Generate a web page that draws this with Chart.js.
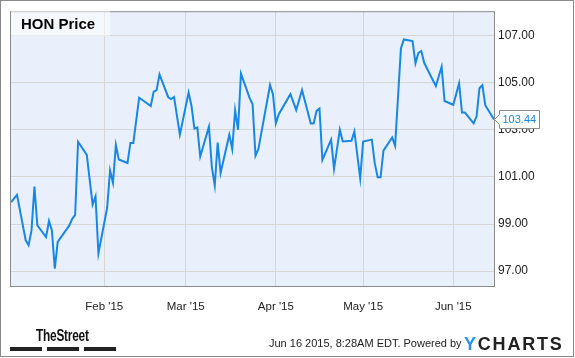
<!DOCTYPE html>
<html>
<head>
<meta charset="utf-8">
<title>HON Price</title>
<script src="https://cdn.jsdelivr.net/npm/chart.js@4.4.0/dist/chart.umd.min.js"></script>
<style>
    html, body { margin: 0; padding: 0; background: #fff; }
    body {
        width: 575px; height: 358px; position: relative; overflow: hidden;
        font-family: "Liberation Sans", Arial, sans-serif;
    }
    #priceChart { position: absolute; left: 0; top: 0; }
    .frame {
        position: absolute; left: 0; top: 0; width: 574px; height: 357px;
        box-sizing: border-box; border: 1px solid #8a8a8a; pointer-events: none;
    }
    .title-box {
        position: absolute; left: 11px; top: 11px; width: 99px; height: 25px;
        background: rgba(255, 255, 255, 0.5);
    }
    .title-box span {
        position: absolute; left: 10px; top: 4px;
        font-weight: bold; font-size: 15px; color: #000; white-space: nowrap;
    }
    .street {
        position: absolute; left: 36px; top: 327px;
        font-weight: bold; font-size: 16px; color: #111; letter-spacing: -0.3px;
        transform: scaleX(0.74); transform-origin: left top; white-space: nowrap;
    }
    .street-bar { position: absolute; top: 347px; height: 4px; background: #222; }
    .stamp {
        position: absolute; left: 269px; top: 337px;
        font-size: 11px; color: #222; white-space: nowrap;
    }
    .ycharts {
        position: absolute; left: 464px; top: 334px;
        font-weight: bold; font-size: 18px; color: #222; letter-spacing: 1.8px; white-space: nowrap;
    }
    .ycharts .y { color: #2a93e8; }
</style>
</head>
<body>
<canvas id="priceChart" width="575" height="358"></canvas>
<div class="title-box"><span>HON Price</span></div>
<div class="frame"></div>
<div class="street">TheStreet</div>
<div class="street-bar" style="left:10px;width:32px"></div>
<div class="street-bar" style="left:47px;width:32px"></div>
<div class="street-bar" style="left:84px;width:32px"></div>
<div class="stamp">Jun 16 2015, 8:28AM EDT. Powered by</div>
<div class="ycharts"><span class="y">Y</span>CHARTS</div>

<script>
// HON daily close (only the visible turning points)
const dates = [
    '2014-12-31', '2015-01-02', '2015-01-05', '2015-01-06', '2015-01-07', '2015-01-08', '2015-01-09',
    '2015-01-12', '2015-01-13', '2015-01-14', '2015-01-15', '2015-01-16', '2015-01-20', '2015-01-21',
    '2015-01-22', '2015-01-23', '2015-01-26', '2015-01-28', '2015-01-29', '2015-01-30',
    '2015-02-02', '2015-02-03', '2015-02-04', '2015-02-05', '2015-02-06', '2015-02-09', '2015-02-10',
    '2015-02-11', '2015-02-13', '2015-02-17', '2015-02-18', '2015-02-19', '2015-02-20', '2015-02-23',
    '2015-02-24', '2015-02-25', '2015-02-27',
    '2015-03-02', '2015-03-03', '2015-03-04', '2015-03-05', '2015-03-06', '2015-03-09', '2015-03-10',
    '2015-03-11', '2015-03-12', '2015-03-13', '2015-03-16', '2015-03-17', '2015-03-18', '2015-03-19',
    '2015-03-20', '2015-03-23', '2015-03-24', '2015-03-25', '2015-03-26', '2015-03-30', '2015-03-31',
    '2015-04-01', '2015-04-02', '2015-04-06', '2015-04-08', '2015-04-10', '2015-04-13', '2015-04-14',
    '2015-04-15', '2015-04-16', '2015-04-17', '2015-04-20', '2015-04-21', '2015-04-23', '2015-04-24',
    '2015-04-27', '2015-04-28', '2015-04-30',
    '2015-05-01', '2015-05-04', '2015-05-05', '2015-05-06', '2015-05-07', '2015-05-08', '2015-05-11',
    '2015-05-12', '2015-05-14', '2015-05-15', '2015-05-18', '2015-05-19', '2015-05-20', '2015-05-21',
    '2015-05-22', '2015-05-26', '2015-05-28', '2015-05-29',
    '2015-06-01', '2015-06-03', '2015-06-04', '2015-06-05', '2015-06-08', '2015-06-09', '2015-06-10',
    '2015-06-11', '2015-06-12', '2015-06-15'
];
const prices = [
    99.93, 100.24, 98.31, 98.10, 98.73, 100.59, 98.94,
    98.45, 99.13, 98.73, 97.11, 98.24, 98.94, 99.22,
    99.39, 102.49, 101.93, 99.82, 100.17, 97.75,
    99.69, 101.27, 100.75, 102.35, 101.74, 101.59, 102.44,
    102.44, 104.36, 104.01, 104.62, 104.68, 105.35, 104.38,
    104.30, 104.39, 102.79,
    104.58, 104.01, 103.05, 103.10, 101.86, 103.13, 101.41,
    100.63, 102.46, 101.17, 102.79, 102.18, 103.83, 103.00,
    105.38, 104.34, 104.08, 101.90, 102.18, 104.90, 104.51,
    103.27, 103.66, 104.51, 103.84, 104.69, 103.27, 103.27,
    103.80, 103.90, 101.72, 102.58, 101.34, 103.00, 102.50,
    102.53, 102.93, 100.94,
    102.50, 102.58, 101.58, 100.98, 100.98, 102.11, 102.67,
    102.32, 106.45, 106.83, 106.76, 105.82, 106.26, 106.34,
    105.84, 104.85, 105.67, 104.22,
    104.06, 104.97, 103.73, 103.73, 103.27, 103.56, 104.76,
    104.89, 104.04, 103.44
];

const monthTickDates = ['2015-02-01', '2015-03-01', '2015-04-01', '2015-05-01', '2015-06-01'];
const monthTickLabels = ["Feb '15", "Mar '15", "Apr '15", "May '15", "Jun '15"];
const priceTicks = [97, 99, 101, 103, 105, 107];

const LINE_COLOR = '#1787e6';
const GRID_COLOR = '#d6d6d6';
const PLOT_BG = '#eaf0fb';
const BORDER_COLOR = '#8a8a8a';

// days since 1 Jan 2015, so the x axis can stay a plain linear scale
function dayNumber(iso) {
    const [y, m, d] = iso.split('-').map(Number);
    return (Date.UTC(y, m - 1, d) - Date.UTC(2015, 0, 1)) / 86400000;
}

const points = dates.map((d, i) => ({ x: dayNumber(d), y: prices[i] }));
const tickDays = monthTickDates.map(dayNumber);

const plotFrame = {
    id: 'plotFrame',
    beforeDraw(chart) {
        const { ctx, chartArea: a } = chart;
        ctx.save();
        ctx.fillStyle = PLOT_BG;
        ctx.fillRect(a.left, a.top, a.right - a.left, a.bottom - a.top);
        ctx.restore();
    },
    afterDraw(chart) {
        const { ctx, chartArea: a } = chart;
        ctx.save();
        ctx.strokeStyle = BORDER_COLOR;
        ctx.lineWidth = 1;
        ctx.strokeRect(a.left + 0.5, a.top + 0.5, a.right - a.left, a.bottom - a.top);
        ctx.restore();
    }
};

const lastValueFlag = {
    id: 'lastValueFlag',
    afterDraw(chart) {
        const meta = chart.getDatasetMeta(0);
        const pt = meta.data[meta.data.length - 1];
        const ctx = chart.ctx;
        const x = Math.round(pt.x) + 0.5;
        const y = Math.round(pt.y) + 0.5;
        ctx.save();
        ctx.beginPath();
        ctx.moveTo(x, y);
        ctx.lineTo(x + 5, y - 5);
        ctx.lineTo(x + 5, y - 9);
        ctx.lineTo(x + 45, y - 9);
        ctx.lineTo(x + 45, y + 9);
        ctx.lineTo(x + 5, y + 9);
        ctx.lineTo(x + 5, y + 5);
        ctx.closePath();
        ctx.fillStyle = '#fff';
        ctx.fill();
        ctx.strokeStyle = BORDER_COLOR;
        ctx.lineWidth = 1;
        ctx.stroke();
        ctx.fillStyle = LINE_COLOR;
        ctx.font = '11px "Liberation Sans", Arial, sans-serif';
        ctx.textBaseline = 'middle';
        ctx.fillText(prices[prices.length - 1].toFixed(2), x + 8, y + 0.5);
        ctx.restore();
    }
};

Chart.defaults.font.family = '"Liberation Sans", Arial, sans-serif';

new Chart(document.getElementById('priceChart'), {
    type: 'line',
    data: {
        datasets: [{
            data: points,
            borderColor: LINE_COLOR,
            borderWidth: 2,
            pointRadius: 0,
            tension: 0,
            fill: false
        }]
    },
    options: {
        responsive: false,
        animation: false,
        layout: { padding: { left: 10, top: 10, right: 0, bottom: 0 } },
        plugins: { legend: { display: false }, tooltip: { enabled: false } },
        scales: {
            x: {
                type: 'linear',
                min: -1.4,
                max: 165,
                afterBuildTicks: s => { s.ticks = tickDays.map(v => ({ value: v })); },
                afterFit: s => { s.height = 72; },
                grid: { color: GRID_COLOR, drawTicks: false },
                border: { display: false },
                ticks: {
                    autoSkip: false,
                    maxRotation: 0,
                    padding: 14,
                    color: '#222',
                    font: { size: 11.5 },
                    callback: (v, i) => monthTickLabels[i]
                }
            },
            y: {
                position: 'right',
                min: 96.37,
                max: 108.03,
                afterBuildTicks: s => { s.ticks = priceTicks.map(v => ({ value: v })); },
                afterFit: s => { s.width = 81; },
                grid: { color: GRID_COLOR, drawTicks: false },
                border: { display: false },
                ticks: {
                    padding: 4,
                    color: '#222',
                    font: { size: 12 },
                    callback: v => v.toFixed(2)
                }
            }
        }
    },
    plugins: [plotFrame, lastValueFlag]
});
</script>
</body>
</html>
